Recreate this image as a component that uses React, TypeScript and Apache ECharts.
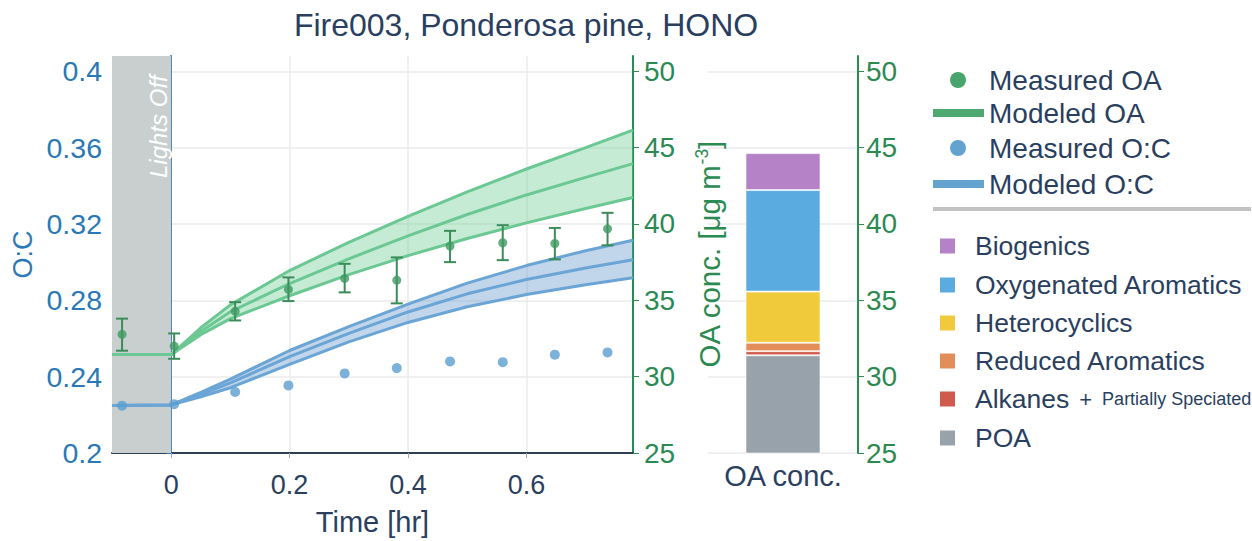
import React, { useEffect, useRef } from 'react';
import * as echarts from 'echarts';

// ---------- data ----------
const modelTimes = [-0.1, 0, 0.05, 0.1, 0.2, 0.3, 0.4, 0.5, 0.6, 0.7, 0.78];
const oaUpper = [31.45, 31.45, 33.2, 34.7, 36.95, 38.8, 40.5, 42.1, 43.6, 45.0, 46.15];
const oaCenter = [31.45, 31.45, 32.95, 34.25, 36.1, 37.72, 39.22, 40.62, 41.9, 43.05, 43.95];
const oaLower = [31.45, 31.45, 32.75, 33.8, 35.3, 36.68, 37.93, 39.05, 40.07, 41.01, 41.73];
const ocUpper = [0.2249, 0.2252, 0.2318, 0.2387, 0.2537, 0.2662, 0.278, 0.289, 0.2982, 0.306, 0.3115];
const ocCenter = [0.2249, 0.2252, 0.2307, 0.2367, 0.2505, 0.2627, 0.2739, 0.2834, 0.2909, 0.2969, 0.3012];
const ocLower = [0.2249, 0.2252, 0.2295, 0.2342, 0.2464, 0.2582, 0.2684, 0.2766, 0.283, 0.2882, 0.2918];

const measTimes = [-0.083, 0.005, 0.108, 0.198, 0.293, 0.381, 0.471, 0.56, 0.648, 0.737];
const measOA = [32.77, 32.0, 34.29, 35.71, 36.43, 36.32, 38.55, 38.77, 38.72, 39.68];
const measOALow = [31.7, 31.17, 33.68, 34.95, 35.52, 34.8, 37.5, 37.63, 37.68, 38.6];
const measOAHigh = [33.8, 32.83, 34.88, 36.5, 37.39, 37.81, 39.55, 39.92, 39.74, 40.73];
const measOC = [0.2248, 0.2256, 0.232, 0.2354, 0.2417, 0.2445, 0.248, 0.2476, 0.2515, 0.2527];

const lightsOff = [-0.1, 0];

const timeTicks = [0, 0.2, 0.4, 0.6];
const ocTicks = [0.2, 0.24, 0.28, 0.32, 0.36, 0.4];
const oaTicks = [25, 30, 35, 40, 45, 50];

const barCategory = ['OA conc.'];
const compNames = ['POA', 'Alkanes', 'Reduced Aromatics', 'Heterocyclics', 'Oxygenated Aromatics', 'Biogenics'];
const compValues = [31.4, 0.27, 0.55, 3.35, 6.65, 2.42];
const compColors = ['#98a2aa', '#d05a4c', '#e38d58', '#f1ca3c', '#59abe0', '#b582c7'];

const legendLabels = ['Biogenics', 'Oxygenated Aromatics', 'Heterocyclics', 'Reduced Aromatics', 'Alkanes', 'POA'];

// ---------- styles ----------
const FONT = 'Liberation Sans, Arial, Helvetica, sans-serif';
const NAVY = '#2a3f5f';
const BLUE_AX = '#2a79b4';
const GREEN_AX = '#2b8a52';
const G_LINE = '#6cc893';
const G_FILL = 'rgba(110,205,150,0.4)';
const B_LINE = '#6aa5d6';
const B_FILL = 'rgba(100,150,205,0.4)';
const G_MARK = '#3f9a62';
const G_ERR = '#3c8b5b';
const B_MARK = '#5b9dd0';
const GRID = '#ebebeb';

const zip = (xs: number[], ys: number[]) => xs.map((x, i) => [x, ys[i]]);

const bandFill = (name: string, upper: number[], lower: number[], yIdx: number, fill: string) => ({
  name, type: 'custom', xAxisIndex: 0, yAxisIndex: yIdx, z: 2, silent: true,
  data: modelTimes.map((t, i) => [t, lower[i], upper[i]]),
  encode: { x: 0, y: [1, 2] },
  renderItem: (params: any, api: any) => {
    if (params.dataIndex !== 0) return null;
    const top = modelTimes.map((t, i) => api.coord([t, upper[i]]));
    const bot = modelTimes.map((t, i) => api.coord([t, lower[i]])).reverse();
    return { type: 'polygon', shape: { points: top.concat(bot) }, style: { fill } };
  },
});

const lineSeries = (name: string, ys: number[], yIdx: number, color: string) => ({
  name, type: 'line', xAxisIndex: 0, yAxisIndex: yIdx,
  data: zip(modelTimes, ys), symbol: 'none', lineStyle: { color, width: 3 }, z: 3,
});

export default function App() {
  const ref = useRef<HTMLDivElement>(null);
  useEffect(() => {
    document.body.style.margin = '0';
    const chart = echarts.init(ref.current!, null, { renderer: 'svg' });

    const legendTop = [
      { label: 'Measured OA', kind: 'dot', color: '#4aa46e', y: 80 },
      { label: 'Modeled OA', kind: 'line', color: '#4fa86f', y: 113 },
      { label: 'Measured O:C', kind: 'dot', color: '#64a2d0', y: 148 },
      { label: 'Modeled O:C', kind: 'line', color: '#64a2d0', y: 184 },
    ];
    const graphics: any[] = [];
    legendTop.forEach((it) => {
      if (it.kind === 'dot') {
        graphics.push({ type: 'circle', shape: { cx: 958, cy: it.y, r: 8 }, style: { fill: it.color } });
      } else {
        graphics.push({ type: 'rect', shape: { x: 933, y: it.y - 4, width: 51, height: 8 }, style: { fill: it.color } });
      }
      graphics.push({
        type: 'text', x: 989, y: it.y,
        style: { text: it.label, fill: NAVY, font: `28px ${FONT}`, verticalAlign: 'middle', align: 'left' },
      });
    });
    graphics.push({ type: 'rect', shape: { x: 933, y: 207, width: 318, height: 4 }, style: { fill: '#c2c2c2' } });
    const legYs = [246, 285, 323, 361, 399, 438];
    legendLabels.forEach((lab, i) => {
      const ci = compNames.indexOf(lab);
      graphics.push({ type: 'rect', shape: { x: 940, y: legYs[i] - 7.5, width: 15, height: 15 }, style: { fill: compColors[ci] } });
      if (lab === 'Alkanes') {
        graphics.push({
          type: 'text', x: 975, y: legYs[i],
          style: {
            text: '{a|Alkanes}{b|+}{c|Partially Speciated}',
            verticalAlign: 'middle', align: 'left',
            rich: {
              a: { fontSize: 26.5, fontFamily: FONT, fill: NAVY, color: NAVY },
              b: { fontSize: 22, fontFamily: FONT, fill: NAVY, color: NAVY, padding: [0, 10, 0, 10] },
              c: { fontSize: 18, fontFamily: FONT, fill: NAVY, color: NAVY },
            },
          },
        });
      } else {
        graphics.push({
          type: 'text', x: 975, y: legYs[i],
          style: { text: lab, fill: NAVY, font: `26.5px ${FONT}`, verticalAlign: 'middle', align: 'left' },
        });
      }
    });
    graphics.push({
      type: 'text', x: 158, y: 178, rotation: Math.PI / 2,
      style: { text: 'Lights Off', fill: '#ffffff', font: `italic 24px ${FONT}`, verticalAlign: 'middle', align: 'left' },
      z: 10,
    });

    const option: any = {
      animation: false,
      textStyle: { fontFamily: FONT },
      title: {
        text: 'Fire003, Ponderosa pine, HONO',
        left: 521, top: 4, textAlign: 'center',
        textStyle: { fontFamily: FONT, fontSize: 32, fontWeight: 'normal', color: NAVY },
      },
      grid: [
        { left: 112, top: 56, width: 521, height: 397 },
        { left: 708, top: 56, width: 150, height: 397 },
      ],
      xAxis: [
        {
          type: 'value', gridIndex: 0, min: -0.1, max: 0.78,
          name: 'Time [hr]', nameLocation: 'middle', nameGap: 54,
          nameTextStyle: { fontSize: 29, color: NAVY, fontFamily: FONT },
          axisLine: { show: true, lineStyle: { color: '#2f3e55', width: 2 } },
          axisTick: { show: true, length: 5, customValues: timeTicks, lineStyle: { color: '#9aa5b5' } },
          axisLabel: { customValues: timeTicks, fontSize: 27, color: NAVY, margin: 18, formatter: (v: number) => String(+v.toFixed(2)) },
          splitLine: { show: true, lineStyle: { color: GRID, width: 1.5 } },
        },
        {
          type: 'category', gridIndex: 1, data: barCategory,
          axisLine: { show: false }, axisTick: { show: false },
          axisLabel: { fontSize: 29, color: NAVY, margin: 8 },
        },
      ],
      yAxis: [
        {
          type: 'value', gridIndex: 0, position: 'left', min: 0.2, max: 0.408,
          name: 'O:C', nameLocation: 'middle', nameGap: 76,
          nameTextStyle: { fontSize: 27, color: BLUE_AX, fontFamily: FONT },
          axisLine: { show: true, lineStyle: { color: BLUE_AX, width: 2 } },
          axisTick: { show: true, length: 5, customValues: ocTicks, lineStyle: { color: BLUE_AX } },
          axisLabel: { customValues: ocTicks, fontSize: 28.5, color: BLUE_AX, margin: 10, formatter: (v: number) => String(+v.toFixed(2)) },
          splitLine: { show: true, lineStyle: { color: GRID, width: 1.5 } },
        },
        {
          type: 'value', gridIndex: 0, position: 'right', min: 25, max: 51,
          name: '{n|OA conc. [μg m}{s|-3}{n|]}', nameLocation: 'middle', nameGap: 60,
          nameTextStyle: {
            color: GREEN_AX, fontFamily: FONT,
            rich: {
              n: { fontSize: 29.5, color: GREEN_AX, fontFamily: FONT, lineHeight: 32 },
              s: { fontSize: 17.5, color: GREEN_AX, fontFamily: FONT, padding: [0, 0, 15, 0] },
            },
          },
          axisLine: { show: true, lineStyle: { color: GREEN_AX, width: 2 } },
          axisTick: { show: true, length: 6, customValues: oaTicks, lineStyle: { color: GREEN_AX } },
          axisLabel: { customValues: oaTicks, fontSize: 28, color: GREEN_AX, margin: 11 },
          splitLine: { show: false },
        },
        {
          type: 'value', gridIndex: 1, position: 'right', min: 25, max: 51,
          axisLine: { show: true, lineStyle: { color: GREEN_AX, width: 2 } },
          axisTick: { show: true, length: 6, customValues: oaTicks, lineStyle: { color: GREEN_AX } },
          axisLabel: { customValues: oaTicks, fontSize: 28, color: GREEN_AX, margin: 8 },
          splitLine: { show: true, lineStyle: { color: GRID, width: 1.5 } },
        },
      ],
      graphic: graphics,
      series: [
        {
          name: 'Lights Off', type: 'line', xAxisIndex: 0, yAxisIndex: 0, data: [], symbol: 'none',
          markArea: {
            silent: true,
            itemStyle: { color: '#c9cfcf' },
            data: [[{ xAxis: lightsOff[0] }, { xAxis: lightsOff[1] }]],
          },
        },
        bandFill('OA band', oaUpper, oaLower, 1, G_FILL),
        lineSeries('OA lower', oaLower, 1, G_LINE),
        lineSeries('OA upper', oaUpper, 1, G_LINE),
        lineSeries('Modeled OA', oaCenter, 1, G_LINE),
        bandFill('O:C band', ocUpper, ocLower, 0, B_FILL),
        lineSeries('O:C lower', ocLower, 0, B_LINE),
        lineSeries('O:C upper', ocUpper, 0, B_LINE),
        lineSeries('Modeled O:C', ocCenter, 0, B_LINE),
        {
          name: 'OA error', type: 'custom', xAxisIndex: 0, yAxisIndex: 1, z: 4,
          data: measTimes.map((t, i) => [t, measOALow[i], measOAHigh[i]]),
          encode: { x: 0, y: [1, 2] },
          renderItem: (params: any, api: any) => {
            const t = api.value(0);
            const lo = api.coord([t, api.value(1)]);
            const hi = api.coord([t, api.value(2)]);
            const w = 6;
            const st = { stroke: G_ERR, lineWidth: 2 };
            return {
              type: 'group',
              children: [
                { type: 'line', shape: { x1: lo[0], y1: lo[1], x2: hi[0], y2: hi[1] }, style: st },
                { type: 'line', shape: { x1: lo[0] - w, y1: lo[1], x2: lo[0] + w, y2: lo[1] }, style: st },
                { type: 'line', shape: { x1: hi[0] - w, y1: hi[1], x2: hi[0] + w, y2: hi[1] }, style: st },
              ],
            };
          },
        },
        {
          name: 'Measured OA', type: 'scatter', xAxisIndex: 0, yAxisIndex: 1, z: 5,
          data: zip(measTimes, measOA), symbolSize: 9, itemStyle: { color: G_MARK },
        },
        {
          name: 'Measured O:C', type: 'scatter', xAxisIndex: 0, yAxisIndex: 0, z: 5,
          data: zip(measTimes, measOC), symbolSize: 10, itemStyle: { color: B_MARK },
        },
        ...compNames.map((n, i) => ({
          name: n, type: 'bar', xAxisIndex: 1, yAxisIndex: 2, stack: 'comp',
          barWidth: 75, data: [compValues[i]],
          itemStyle: { color: compColors[i], borderColor: 'rgba(255,255,255,0.6)', borderWidth: 1 },
        })),
      ],
    };
    chart.setOption(option);
    return () => chart.dispose();
  }, []);
  return <div ref={ref} style={{ width: 1252, height: 541 }} />;
}
